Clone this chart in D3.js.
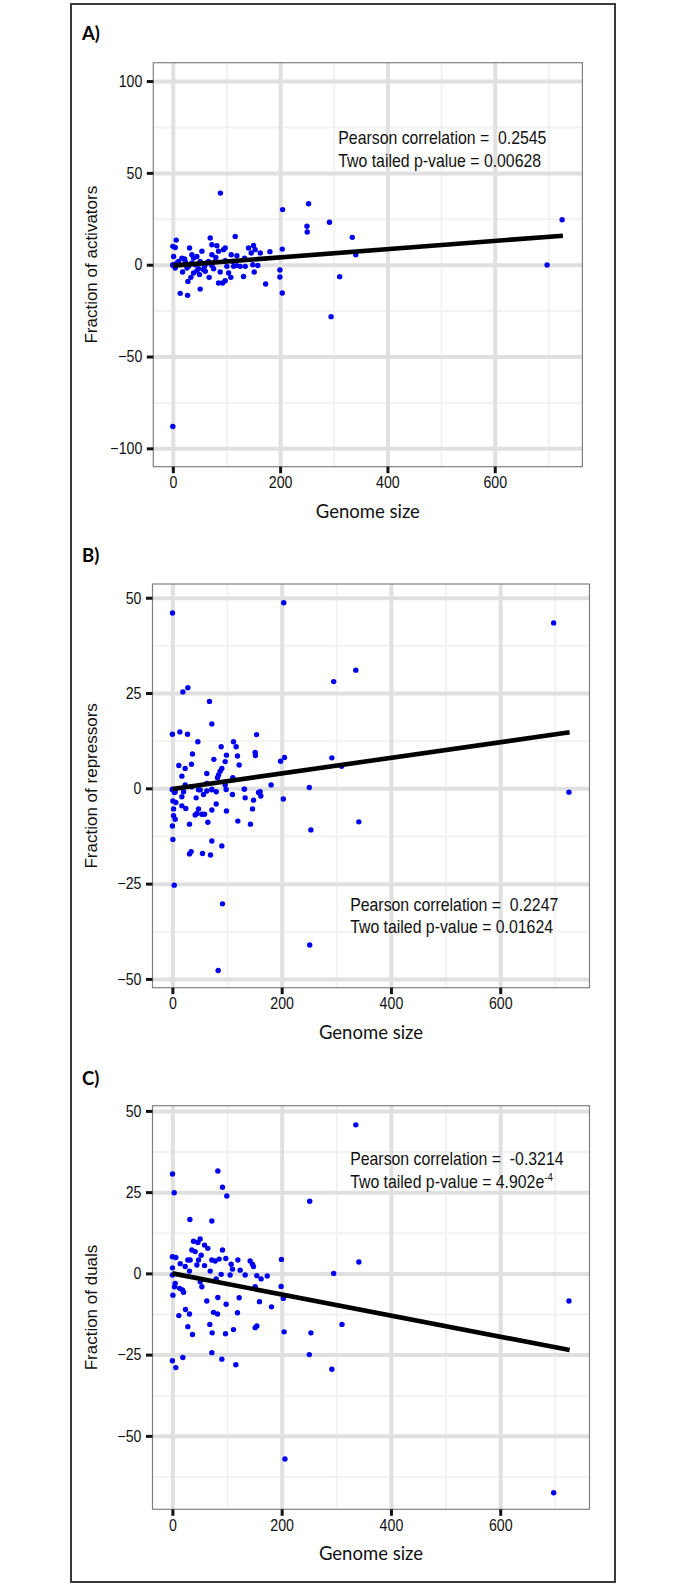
<!DOCTYPE html>
<html>
<head>
<meta charset="utf-8">
<script src="https://cdn.jsdelivr.net/npm/d3@7"></script>
<style>
  body { margin: 0; background: #fff; }
  svg text { white-space: pre; }
</style>
</head>
<body>
<script>
// genome size vs fraction: [genomeSize, fraction]
var activators = [
  [88.7,39.0],[204.6,30.0],[253,33.2],[250,20.9],[250.5,17.8],[292,23.1],[334.5,14.9],[341,5.4],[311,-6.5],[295,-28.3],
  [697.6,-0.2],[725.6,24.5],[204,8.5],[199.6,-2.9],[199.6,-6.7],[204,-15.4],[173,-10.5],[181,7.1],[0,-88.1],
  [6.3,13.4],[0,10],[4.5,9.4],[1.4,4.5],[0,0],[0.3,-0.4],[4.5,-1.8],[7.6,0.9],[16.9,3.6],[21.9,3.1],[31.2,9.1],
  [18.1,-4.0],[13.8,-15.6],[27.5,-16.7],[28.1,-9.1],[33.7,-6.9],[38.6,-4.5],[35.5,5.4],[38.6,3.6],[44.8,4.5],[41.7,0],
  [48,-2.2],[49.8,-5.4],[54.2,7.3],[51,-13.3],[59.1,-0.9],[63.5,0.9],[67.7,-6.9],[69.7,14.5],[72.8,10.9],[82.1,10.3],
  [72.8,5.4],[80.2,4.0],[85.2,7.3],[88.3,-4.0],[85.2,-10],[92.7,-10],[97.6,-8.7],[94.5,8.2],[97.6,9.1],[100.7,-0.9],
  [108.1,-6.9],[108.8,5.4],[112,1.8],[116.3,15.4],[113.2,-0.9],[119.4,4.9],[119.4,-0.5],[131.8,-6.4],[133.7,3.6],[141.1,9.1],
  [146.1,6.4],[150.4,10.5],[153.5,8.2],[149.1,0],[158.4,-0.4],[151.7,-4.0],[163,6.4],
  [23.2,1.8],[29.4,-0.9],[57.3,-2.7],[72.8,-0.4],[76,-2.2],[104,-4.5],[125.6,-0.9],[135,-0.9],[97.6,2.2],[66.6,1.8],
  [10.7,1.8],[26.3,-1.8],[35.5,0.9],[51,1.8],[60.5,-3.6],[44.8,-3.3],[79,1.8]
];
var repressors = [
  [203.8,48.7],[697.8,43.4],[335.7,31.0],[295.2,28.0],[198,7.1],[205.2,8.1],[291.8,8.0],[309.7,5.8],[250.6,0.2],[203,-2.8],
  [725.8,-1.0],[253.5,-10.9],[341.3,-8.8],[180.7,0.9],[251.3,-41.1],
  [0.2,46.0],[19.2,25.3],[28.3,26.4],[67.9,22.8],[72.2,16.9],[0,14.2],[13.7,14.8],[27.7,14.2],[46.6,12.2],[154,14.1],
  [111.8,12.2],[116.7,10.9],[89.3,10.9],[99,8.7],[119.1,8.5],[151.5,9.4],[152,8.6],[36.8,9.0],[75.9,7.6],[96.6,7.0],
  [11.8,6.0],[23.4,5.2],[35,6.3],[17.3,3.2],[90.5,5.2],[87.4,4.5],[84.4,3.5],[122.2,6.1],[63,3.9],[82.6,2.8],
  [110.6,2.8],[0,-0.2],[5.1,-0.9],[47.8,-0.4],[72.2,-0.2],[96.6,0.9],[131.3,-0.2],[160.6,-0.9],[63,1.3],[23.4,0.9],
  [35.6,0.4],[0,-0.4],[3.9,-1.1],[20.4,-0.9],[17.3,-2.2],[0.9,-3.3],[6.3,-3.7],[17.3,-4.6],[24.6,-5.3],[2.1,-5.4],
  [2.1,-7.2],[5.1,-8.1],[0,-9.9],[43.5,-2.5],[47.8,-5.4],[41.7,-7.0],[44.8,-6.6],[53.9,-6.8],[58.8,-6.8],[64.9,-8.9],
  [31.3,-9.4],[72.2,-5.7],[80.2,-4.1],[50.9,-0.4],[63,-0.7],[57,-1.6],[72.2,-0.4],[80.2,-0.9],[98.4,-0.3],[109.9,-1.6],
  [99,-5.95],[119.8,-8.6],[132,-0.2],[133.2,-2.5],[148.5,-3.1],[146.6,-5.4],[142.9,-9.4],[157.6,-1.1],[161.8,-2.0],[0.9,-13.4],
  [72.2,-13.8],[90.5,-15.1],[31.3,-17.2],[34.4,-16.6],[55.1,-17.1],[69.8,-17.5],[3.3,-25.4],[91.7,-30.3],[83.8,-47.8]
];
var duals = [
  [335.7,45.7],[251.3,22.2],[341.3,3.5],[295.2,0],[199.6,4.3],[199,-4.0],[203,-7.7],[181.4,-10.3],[204.5,-18],[253.5,-18.3],
  [310.4,-15.7],[250.6,-25],[291.8,-29.5],[725.8,-8.5],[173.6,-0.8],[206,-57.1],[697.8,-67.5],
  [0.2,30.6],[3.3,24.8],[83.2,31.5],[91.7,26.5],[99.6,23.8],[32,16.6],[72.2,16.1],[38.7,9.9],[46.6,9.5],[50.8,10.6],
  [58.8,8.7],[64.9,7.7],[35.6,7.2],[41.7,6.7],[91.7,7.2],[52.7,5.6],[47.8,4.1],[28.3,4.1],[32.5,4.1],[0,5.1],
  [6.3,4.9],[14.3,3.0],[0.2,1.7],[0,-0.5],[23.4,2.1],[31.3,0.7],[44.8,2.6],[58.8,2.4],[72.2,4.1],[78.3,3.8],
  [85.6,4.4],[97.8,4.6],[107.6,2.8],[110,1.3],[119.8,4.1],[124,1.0],[133.2,-0.5],[142.3,3.8],[146.6,2.8],[148.5,2.1],
  [154.5,-0.7],[162.4,-1.7],[69.2,0.7],[89.3,-0.3],[80.2,-1.7],[105.7,-0.5],[50.9,-2.6],[53.9,-4.1],[5.1,-3.1],[3.9,-4.1],
  [13.2,-4.6],[18.5,-5.1],[20.4,-5.8],[0.9,-6.7],[151.5,-4.1],[98.4,-9.5],[63,-8.5],[83.2,-7.4],[122.2,-7.5],[159.4,-8.7],
  [11.8,-13.0],[24,-11.1],[31.3,-12.5],[75.2,-12.0],[82.6,-12.5],[119.1,-12.1],[28.3,-16.4],[36.8,-18.8],[68.5,-15.7],[72.8,-18.3],
  [97.2,-18.6],[111.8,-17.3],[151.5,-16.7],[154.5,-16.2],[72.2,-24.4],[90.5,-26.4],[116.1,-28.1],[19.1,-25.9],[0,-26.9],[6.3,-29.0]
];

// fitted lines: value at genome size 0 and 727
var fitX = [0, 727];
var fitActivators = [-0.5, 15.8];
var fitRepressors = [-0.2, 14.7];
var fitDuals = [0, -23.6];

var xTicks = [0, 200, 400, 600];
var xMinor = [100, 300, 500, 700];
var yTicksA = [-100, -50, 0, 50, 100];
var yMinorA = [-75, -25, 25, 75];
var yTicksBC = [-50, -25, 0, 25, 50];
var yMinorB = [-37.5, -12.5, 12.5, 37.5];
var yMinorC = [-62.5, -37.5, -12.5, 12.5, 37.5];

var panels = [
  {letter: "A)", data: activators, fit: fitActivators, ylab: "Fraction of activators",
   ydom: [-110, 110], yticks: yTicksA, yminor: yMinorA,
   box: {left: 153.3, right: 582.4, top: 62.7, bottom: 466.7}, letterY: 40,
   note: ["Pearson correlation =  0.2545", "Two tailed p-value = 0.00628"], noteX: 338.3, noteY: 144},
  {letter: "B)", data: repressors, fit: fitRepressors, ylab: "Fraction of repressors",
   ydom: [-52.3, 53.6], yticks: yTicksBC, yminor: yMinorB,
   box: {left: 152.5, right: 589.5, top: 584, bottom: 987.7}, letterY: 562,
   note: ["Pearson correlation =  0.2247", "Two tailed p-value = 0.01624"], noteX: 350.2, noteY: 910.7},
  {letter: "C)", data: duals, fit: fitDuals, ylab: "Fraction of duals",
   ydom: [-72.6, 51.6], yticks: yTicksBC, yminor: yMinorC,
   box: {left: 152.5, right: 589.5, top: 1105.7, bottom: 1509.3}, letterY: 1085,
   note: ["Pearson correlation =  -0.3214", "Two tailed p-value = 4.902e"], sup: "-4", noteX: 350.2, noteY: 1165}
];

// narrow helvetica look: liberation sans squeezed horizontally
var sans = "'Liberation Sans', Arial, sans-serif";
var squeeze = 0.86;

var svg = d3.select("body").append("svg")
  .attr("width", 690).attr("height", 1588);

// outer frame
svg.append("rect")
  .attr("x", 71).attr("y", 4).attr("width", 544).attr("height", 1578)
  .attr("fill", "none").attr("stroke", "#3a3a3a").attr("stroke-width", 2);

function fmt(d) { return d < 0 ? "\u2212" + Math.abs(d) : String(d); }

panels.forEach(function(p) {
  var b = p.box;
  var x = d3.scaleLinear().domain([-36.4, 763.4]).range([b.left, b.right]);
  var y = d3.scaleLinear().domain(p.ydom).range([b.bottom, b.top]);
  var w = b.right - b.left, h = b.bottom - b.top;

  var g = svg.append("g");

  // minor grid
  g.append("g").attr("transform", "translate(0," + b.bottom + ")")
    .call(d3.axisBottom(x).tickValues(xMinor).tickSize(-h).tickFormat(""))
    .call(function(s) { s.select(".domain").remove(); s.selectAll("line").attr("stroke", "#f2f2f2").attr("stroke-width", 2); });
  g.append("g").attr("transform", "translate(" + b.left + ",0)")
    .call(d3.axisLeft(y).tickValues(p.yminor).tickSize(-w).tickFormat(""))
    .call(function(s) { s.select(".domain").remove(); s.selectAll("line").attr("stroke", "#f2f2f2").attr("stroke-width", 2); });

  // major grid
  g.append("g").attr("transform", "translate(0," + b.bottom + ")")
    .call(d3.axisBottom(x).tickValues(xTicks).tickSize(-h).tickFormat(""))
    .call(function(s) { s.select(".domain").remove(); s.selectAll("line").attr("stroke", "#e0e0e0").attr("stroke-width", 4); });
  g.append("g").attr("transform", "translate(" + b.left + ",0)")
    .call(d3.axisLeft(y).tickValues(p.yticks).tickSize(-w).tickFormat(""))
    .call(function(s) { s.select(".domain").remove(); s.selectAll("line").attr("stroke", "#e0e0e0").attr("stroke-width", 4); });

  // points
  g.selectAll("circle").data(p.data).enter().append("circle")
    .attr("cx", function(d) { return x(d[0]); })
    .attr("cy", function(d) { return y(d[1]); })
    .attr("r", 2.7)
    .attr("fill", "#0000f0");

  // fitted line
  g.append("path")
    .attr("d", d3.line().x(function(d, i) { return x(fitX[i]); }).y(function(d) { return y(d); })(p.fit))
    .attr("stroke", "#000").attr("stroke-width", 4.6).attr("fill", "none");

  // panel border
  g.append("rect")
    .attr("x", b.left).attr("y", b.top).attr("width", w).attr("height", h)
    .attr("fill", "none").attr("stroke", "#808080").attr("stroke-width", 1.2);

  // axes
  var xa = g.append("g").attr("transform", "translate(0," + b.bottom + ")")
    .call(d3.axisBottom(x).tickValues(xTicks).tickSize(6.5).tickPadding(3).tickFormat(fmt));
  var ya = g.append("g").attr("transform", "translate(" + b.left + ",0)")
    .call(d3.axisLeft(y).tickValues(p.yticks).tickSize(6.5).tickPadding(4.5).tickFormat(fmt));
  [xa, ya].forEach(function(a) {
    a.select(".domain").remove();
    a.selectAll("line").attr("stroke", "#111").attr("stroke-width", 3);
    a.selectAll("text").attr("fill", "#111")
      .style("font-family", sans).style("font-size", "16.5px")
      .attr("x", function() { return (+d3.select(this).attr("x") || 0) / squeeze; })
      .attr("transform", "scale(" + squeeze + ",1)");
  });

  // axis titles
  g.append("text")
    .attr("x", (b.left + b.right) / 2).attr("y", b.bottom + 51)
    .attr("text-anchor", "middle")
    .style("font-family", "Lato, 'Open Sans', sans-serif").style("font-size", "18.5px").attr("fill", "#111")
    .text("Genome size");
  g.append("text")
    .attr("transform", "translate(97," + ((b.top + b.bottom) / 2) + ") rotate(-90)")
    .attr("text-anchor", "middle")
    .style("font-family", sans).style("font-size", "17px").attr("fill", "#111")
    .text(p.ylab);

  // panel letter
  g.append("text")
    .attr("x", 82).attr("y", p.letterY)
    .style("font-family", "Lato, 'Open Sans', sans-serif").style("font-weight", "bold").style("font-size", "18.5px")
    .text(p.letter);

  // correlation note
  p.note.forEach(function(t, i) {
    var tx = g.append("text")
      .attr("transform", "translate(" + p.noteX + "," + (p.noteY + i * 22.7) + ") scale(0.88,1)")
      .style("font-family", sans).style("font-size", "18px").attr("fill", "#111")
      .text(t);
    if (i === 1 && p.sup) {
      tx.append("tspan").attr("dy", -7).style("font-size", "11px").text(p.sup);
    }
  });
});
</script>
</body>
</html>
